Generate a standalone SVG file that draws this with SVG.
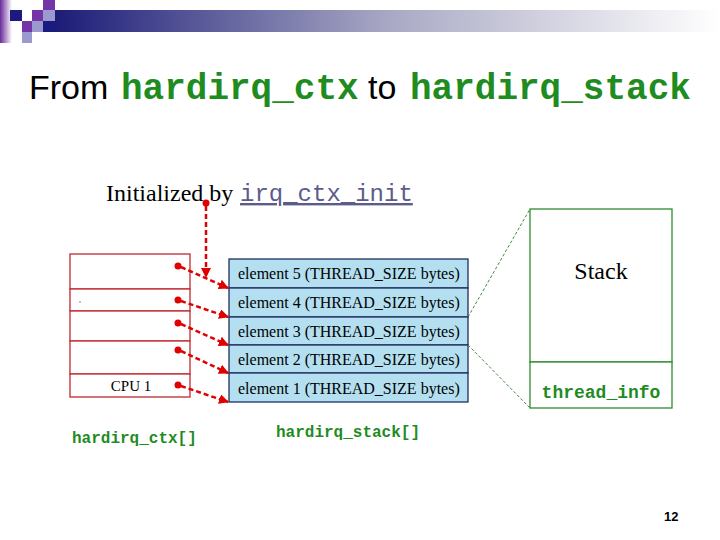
<svg xmlns="http://www.w3.org/2000/svg" width="720" height="540" viewBox="0 0 720 540">
<defs>
<linearGradient id="bar" x1="0" y1="0" x2="1" y2="0">
<stop offset="0" stop-color="#1c1c78"/>
<stop offset="0.5" stop-color="#a8a8c4"/>
<stop offset="1" stop-color="#ffffff"/>
</linearGradient>
<linearGradient id="strip" x1="0" y1="0" x2="1" y2="0">
<stop offset="0" stop-color="#6a2a9a"/>
<stop offset="1" stop-color="#ffffff"/>
</linearGradient>
<marker id="ah" viewBox="0 0 10 10" refX="9" refY="5" markerWidth="4" markerHeight="4" orient="auto" markerUnits="strokeWidth">
<path d="M0,0 L10,5 L0,10 z" fill="#e00000"/>
</marker>
<style>
.mono{font-family:"Liberation Mono","Courier New",monospace;font-weight:bold;fill:#1f8c1f}
.serif{font-family:"Liberation Serif","Times New Roman",serif;fill:#000}
.sans{font-family:"Liberation Sans",Arial,sans-serif;fill:#000}
.cell{fill:#ffffff;stroke:#c0282d;stroke-width:1.3}
.elem{fill:#b3dff0;stroke:#1f2f5f;stroke-width:1.3}
.stk{fill:#ffffff;stroke:#2e8b2e;stroke-width:1.3}
.arr{stroke:#e00000;stroke-width:2.5;stroke-dasharray:5 3;fill:none;marker-end:url(#ah)}
.dot{fill:#e00000}
.gd{stroke:#2e7d2e;stroke-width:0.9;stroke-dasharray:3 2;fill:none}
.et{font-size:16px}
</style>
</defs>

<g id="header">
<rect x="0" y="0" width="12" height="43" fill="url(#strip)"/>
<rect x="55" y="10" width="665" height="22" fill="url(#bar)"/>
<rect x="43" y="0" width="12" height="10" fill="#7436a6"/>
<rect x="10" y="10" width="12" height="11" fill="#1a1a80"/>
<rect x="32" y="10" width="11" height="11" fill="#7436a6"/>
<rect x="43" y="10" width="12" height="11" fill="#9a9ad0"/>
<rect x="22" y="21" width="10" height="11" fill="#7436a6"/>
<rect x="32" y="21" width="11" height="11" fill="#9a9ad0"/>
<rect x="43" y="21" width="12" height="11" fill="#1a1a80"/>
<rect x="22" y="32" width="10" height="11" fill="#9a9ad0"/>
</g>

<g id="title">
<text x="29" y="99" class="sans" font-size="34">From</text>
<text x="121" y="99" class="mono" font-size="36">hardirq_ctx</text>
<text x="368" y="99" class="sans" font-size="34">to</text>
<text x="410" y="99" class="mono" font-size="36">hardirq_stack</text>
</g>

<g id="init-label">
<text x="106" y="201" class="serif" font-size="24">Initialized by</text>
<text x="240" y="201" font-family="'Liberation Mono','Courier New',monospace" font-size="24" fill="#5c5c8c" text-decoration="underline">irq_ctx_init</text>
</g>

<g id="hardirq_ctx">
<rect class="cell" x="70" y="254" width="120" height="35"/>
<rect class="cell" x="70" y="289" width="120" height="22"/>
<rect class="cell" x="70" y="311" width="120" height="30"/>
<rect class="cell" x="70" y="341" width="120" height="33"/>
<rect class="cell" x="70" y="374" width="120" height="23"/>
<rect x="79.5" y="301.5" width="1" height="1" fill="#000"/>
<text x="131" y="391" class="serif" font-size="15" text-anchor="middle">CPU 1</text>
<text x="72" y="443" class="mono" font-size="16">hardirq_ctx[]</text>
</g>

<g id="hardirq_stack">
<rect class="elem" x="229" y="259" width="239" height="29"/>
<rect class="elem" x="229" y="288" width="239" height="29"/>
<rect class="elem" x="229" y="317" width="239" height="28"/>
<rect class="elem" x="229" y="345" width="239" height="28"/>
<rect class="elem" x="229" y="373" width="239" height="29"/>
<text x="238" y="279" class="serif et">element 5 (THREAD_SIZE bytes)</text>
<text x="238" y="308" class="serif et">element 4 (THREAD_SIZE bytes)</text>
<text x="238" y="337" class="serif et">element 3 (THREAD_SIZE bytes)</text>
<text x="238" y="365" class="serif et">element 2 (THREAD_SIZE bytes)</text>
<text x="238" y="394" class="serif et">element 1 (THREAD_SIZE bytes)</text>
<text x="276" y="437" class="mono" font-size="16">hardirq_stack[]</text>
</g>

<g id="stack">
<rect class="stk" x="530" y="209" width="142" height="153"/>
<rect class="stk" x="530" y="362" width="142" height="46"/>
<text x="601" y="279" class="serif" font-size="24" text-anchor="middle">Stack</text>
<text x="601" y="398" class="mono" font-size="18" text-anchor="middle">thread_info</text>
</g>

<g id="connectors">
<line class="gd" x1="468" y1="317" x2="530" y2="209"/>
<line class="gd" x1="468" y1="345" x2="530" y2="408"/>
<circle class="dot" cx="206" cy="203" r="3.5"/>
<line class="arr" x1="206" y1="206" x2="206" y2="277"/>
<circle class="dot" cx="178" cy="266" r="3.5"/>
<line class="arr" x1="181" y1="267" x2="228" y2="288"/>
<circle class="dot" cx="178" cy="300" r="3.5"/>
<line class="arr" x1="181" y1="301" x2="228" y2="317"/>
<circle class="dot" cx="178" cy="323" r="3.5"/>
<line class="arr" x1="181" y1="324" x2="228" y2="345"/>
<circle class="dot" cx="178" cy="350" r="3.5"/>
<line class="arr" x1="181" y1="351" x2="228" y2="373"/>
<circle class="dot" cx="178" cy="385" r="3.5"/>
<line class="arr" x1="181" y1="386" x2="228" y2="402"/>
</g>

<g id="page-number">
<text x="664" y="521" class="sans" font-size="13" font-weight="bold">12</text>
</g>
</svg>
